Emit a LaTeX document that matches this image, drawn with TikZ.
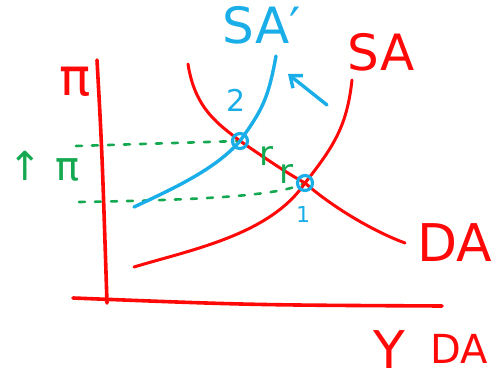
\documentclass[tikz,border=0pt]{standalone}
\usepackage{fontspec}
\setmainfont{DejaVu Sans}
\usetikzlibrary{arrows.meta}
\definecolor{pen red}{HTML}{FF0808}
\definecolor{pen blue}{HTML}{1AAEE8}
\definecolor{pen green}{HTML}{14A850}
\tikzset{
  redline/.style={draw=pen red, line width=3pt, line cap=round},
  axisline/.style={draw=pen red, line width=3.6pt, line cap=round},
  blueline/.style={draw=pen blue, line width=3.4pt, line cap=round},
  guide/.style={draw=pen green, line width=2.6pt, dash pattern=on 6pt off 10pt, line cap=round},
  redlabel/.style={text=pen red, inner sep=0pt, font=\fontsize{#1}{#1}\selectfont},
  bluelabel/.style={text=pen blue, inner sep=0pt, font=\fontsize{#1}{#1}\selectfont},
  greenlabel/.style={text=pen green, inner sep=0pt, font=\fontsize{#1}{#1}\selectfont},
  eqpoint/.style={circle, draw=pen blue, line width=3.2pt, minimum size=15pt, inner sep=0pt},
}
\begin{document}
\begin{tikzpicture}[x=1pt,y=-1pt]
\useasboundingbox (0,0) rectangle (495,382);
% axes
\coordinate (ytop) at (97,60);
\coordinate (ybot) at (107,303);
\coordinate (xl) at (73,298);
\coordinate (xr) at (442,306);
\draw[axisline] (ytop) .. controls (102,150) .. (ybot);
\draw[axisline] (xl) .. controls (250,305) .. (xr);
% equilibrium points
\coordinate (e2) at (240,141);
\coordinate (e1) at (305,183);
% guides
\coordinate (g2) at (76,146);
\coordinate (g1) at (79,202);
\draw[guide] (g2) -- (e2);
\draw[guide] (g1) .. controls (200,200) and (280,196) .. (e1);
% DA curve
\coordinate (dastart) at (188,64);
\coordinate (daend) at (405,243);
\draw[redline] (dastart) .. controls (195,110) and (220,125) .. (e2)
  .. controls (265,158) and (285,172) .. (e1)
  .. controls (330,205) and (370,230) .. (daend);
% SA curve
\coordinate (sastart) at (134,267);
\coordinate (saend) at (352,80);
\draw[redline] (sastart) .. controls (190,250) and (270,235) .. (e1)
  .. controls (335,145) and (347,125) .. (saend);
% SA' curve
\coordinate (sbstart) at (134,207);
\coordinate (sbend) at (276,56);
\draw[blueline] (sbstart) .. controls (170,190) and (215,170) .. (e2)
  .. controls (262,110) and (268,100) .. (sbend);
% shift arrow
\coordinate (arrs) at (327,105);
\coordinate (arre) at (288,74);
\draw[blueline, -{Straight Barb[length=10pt,width=16pt]}] (arrs) -- (arre);
% points
\node[eqpoint] (p2) at (e2) {};
\node[eqpoint] (p1) at (e1) {};
% labels
\node[redlabel=52] (pilab) at (75,82) {π};
\node[greenlabel=40] (uparrow) at (25,166) {↑};
\node[greenlabel=40] (pibar) at (68,170) {π};
\node[bluelabel=50] (sablab) at (262,25) {SA′};
\node[redlabel=50] (salab) at (381,52) {SA};
\node[redlabel=52] (dalab) at (455,243) {DA};
\node[redlabel=52] (ylab) at (389,350) {Y};
\node[redlabel=40] (dablab) at (459,349) {DA};
\node[bluelabel=30] (two) at (236,100) {2};
\node[bluelabel=22] (one) at (303,214) {1};
\node[greenlabel=34] (r1) at (266,156) {r};
\node[greenlabel=34] (r2) at (286,174) {r};
\end{tikzpicture}
\end{document}
